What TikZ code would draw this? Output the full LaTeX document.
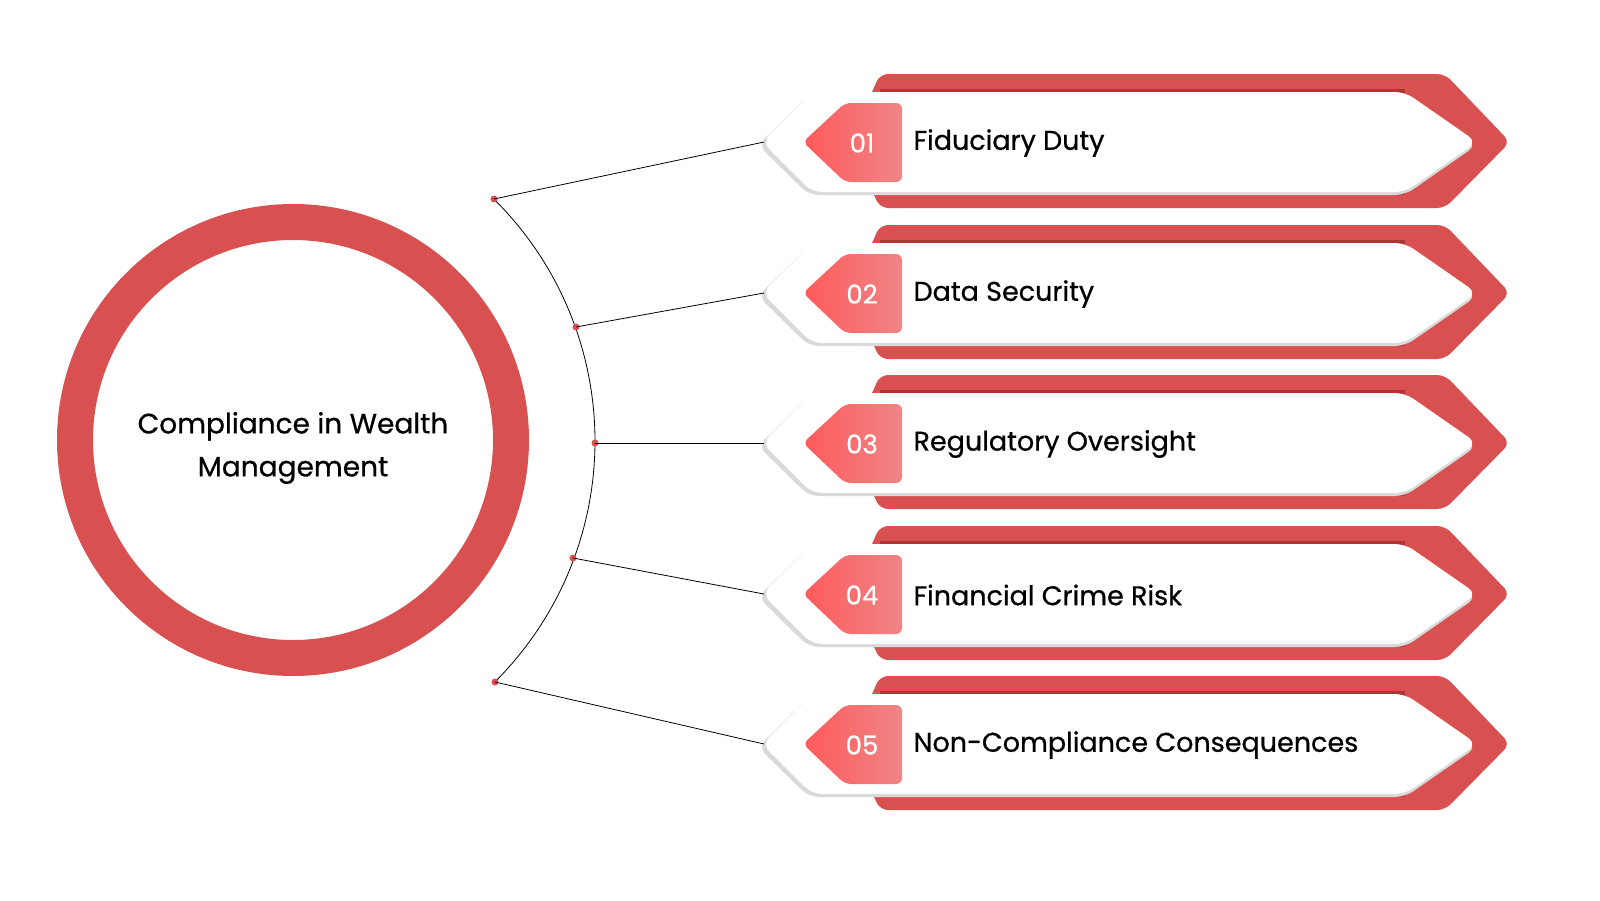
\documentclass[tikz,border=0pt]{standalone}
\usepackage{fontspec}
\setmainfont{Poppins}[FakeBold=0.7]
\definecolor{cred}{HTML}{D85050}
\definecolor{tabA}{HTML}{FF5A5C}
\definecolor{tabB}{HTML}{F08585}
\begin{document}
\begin{tikzpicture}[x=1pt,y=-1pt,
  dotst/.style={circle,fill=cred,inner sep=0pt,minimum size=7pt},
  lbl/.style={anchor=west,font=\fontsize{27}{30}\selectfont,text=black},
  num/.style={font=\fontsize{26}{30}\selectfont,text=white}]
\useasboundingbox (0,0) rectangle (1600,900);
\fill[white] (0,0) rectangle (1600,900);
% circle
\draw[cred,line width=36pt] (293,440) circle (218);
\node[align=center,font=\fontsize{28}{43}\selectfont] (c) at (293,448) {Compliance in Wealth\\Management};
% arc
\draw[black,line width=0.8pt] (255,441) ++(-45.3:340) arc[start angle=-45.3,end angle=45.3,radius=340];
\foreach \i/\y/\dx/\dy/\t in {1/142/494/199/Fiduciary Duty,2/293/576/327/Data Security,3/443/595/443/Regulatory Oversight,4/594/573/558/Financial Crime Risk,5/744/495/682/Non-Compliance Consequences}{
  \begin{scope}[yshift=-(\y-142)*1pt]
  \fill[cred,rounded corners=8pt] (880,74) -- (1445,74) -- (1510,142) -- (1445,208) -- (880,208) -- (850,142) -- cycle;
  \fill[black!60!red,opacity=0.35] (880,89) rectangle (1405,93);
  \fill[black!60!red,opacity=0.25] (880,192) rectangle (1405,195);
  \fill[gray!30,rounded corners=10pt] (758,145) -- (809,95) -- (1405,95) -- (1477,145) -- (1405,195) -- (809,195) -- cycle;
  \fill[white,rounded corners=10pt] (762,142) -- (812,92) -- (1405,92) -- (1477,142) -- (1405,192) -- (812,192) -- cycle;
  \shade[left color=tabA,right color=tabB,rounded corners=6pt] (803,142) -- (845,103) -- (902,103) -- (902,182) -- (845,182) -- cycle;
  \coordinate (b\i) at (764,142);
  \node[num] (n\i) at (862,143) {0\i};
  \node[lbl] (t\i) at (910,143) {\t};
  \end{scope}
  \node[dotst] (d\i) at (\dx,\dy) {};
  \draw[black,line width=0.8pt] (d\i.center) -- (b\i);
}
\end{tikzpicture}
\end{document}
